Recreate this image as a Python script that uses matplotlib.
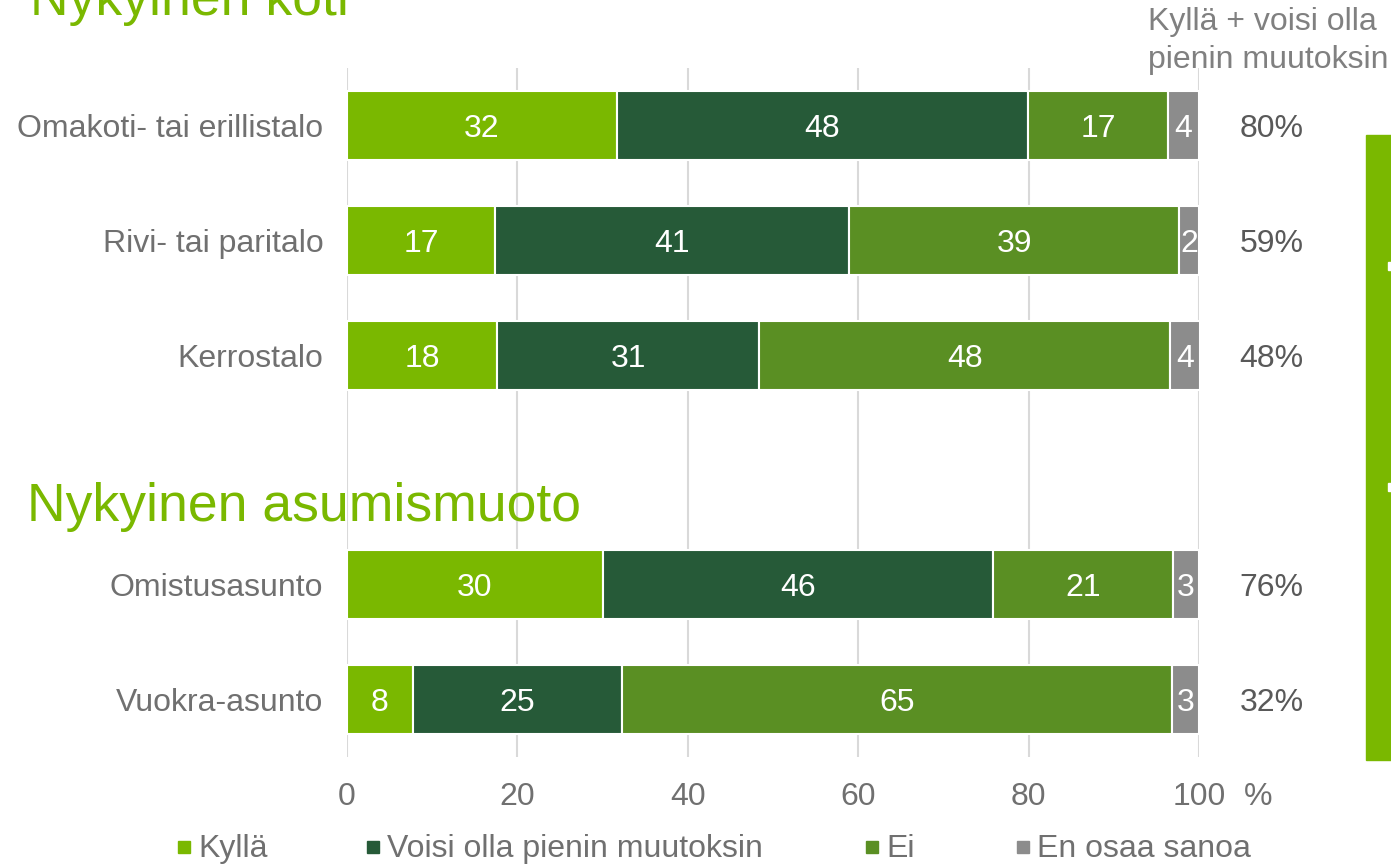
import matplotlib
matplotlib.use("Agg")
import matplotlib.pyplot as plt
from matplotlib.patches import Rectangle
import numpy as np

plt.rcParams['font.family'] = ['Liberation Sans', 'DejaVu Sans']

categories = ["Omakoti- tai erillistalo", "Rivi- tai paritalo", "Kerrostalo", "",
              "Omistusasunto", "Vuokra-asunto"]
series_names = ["Kyllä", "Voisi olla pienin muutoksin", "Ei", "En osaa sanoa"]
kylla = [31.7, 17.4, 17.6, None, 30.0, 7.7]
voisi = [48.2, 41.5, 30.8, None, 45.8, 24.6]
ei = [16.5, 38.8, 48.2, None, 21.1, 64.5]
eos = [3.6, 2.3, 3.5, None, 3.1, 3.2]
labels_kylla = ["32", "17", "18", "", "30", "8"]
labels_voisi = ["48", "41", "31", "", "46", "25"]
labels_ei = ["17", "39", "48", "", "21", "65"]
labels_eos = ["4", "2", "4", "", "3", "3"]
totals = ["80%", "59%", "48%", "", "76%", "32%"]
xticks = [0, 20, 40, 60, 80, 100]
colors = ["#7ab800", "#265a38", "#5a8f23", "#8c8c8c"]

FS = 23
W, H = 1391, 867
fig = plt.figure(figsize=(W / 100, H / 100), dpi=100)
ax = fig.add_axes([347 / W, 1 - 757 / H, (1199 - 347) / W, (757 - 68) / H])

y = np.arange(len(categories))
series = [kylla, voisi, ei, eos]
labs = [labels_kylla, labels_voisi, labels_ei, labels_eos]
idx = [i for i in range(len(categories)) if kylla[i] is not None]
left = np.zeros(len(categories))
for s, lab, c in zip(series, labs, colors):
    vals = np.array([v if v is not None else 0 for v in s])
    ax.barh(y[idx], vals[idx], left=left[idx], height=0.6, color=c,
            edgecolor="white", linewidth=1.5, zorder=3)
    for i in idx:
        ax.text(left[i] + vals[i] / 2, y[i], lab[i], ha="center", va="center_baseline",
                color="white", fontsize=FS, zorder=4)
    left += vals

ax.set_xlim(0, 100)
ax.set_ylim(len(categories) - 0.5, -0.5)
ax.set_yticks(y)
ax.set_yticklabels(categories, fontsize=FS, color="#707070")
ax.set_xticks(xticks)
ax.set_xticklabels([str(t) for t in xticks], fontsize=FS, color="#707070")
ax.tick_params(axis="both", length=0)
ax.tick_params(axis="y", pad=17)
ax.tick_params(axis="x", pad=18)
for sp in ax.spines.values():
    sp.set_visible(False)
ax.grid(axis="x", color="#d9d9d9", linewidth=1.5, zorder=0)
ax.set_axisbelow(True)

# percent unit next to 100
fig.text(1244 / W, 1 - 797 / H, "%", fontsize=FS, color="#707070", ha="left", va="center")

# right-hand totals
for i, t in enumerate(totals):
    if t:
        ax.text(1.085, y[i], t, transform=ax.get_yaxis_transform(), ha="center",
                va="center_baseline", fontsize=FS, color="#595959")
fig.text(1148 / W, 1 - 22 / H, "Kyllä + voisi olla", fontsize=FS, color="#808080",
         ha="left", va="center")
fig.text(1148 / W, 1 - 60 / H, "pienin muutoksin", fontsize=FS, color="#808080",
         ha="left", va="center")

# section titles
fig.text(30 / W, 1 - 15 / H, "Nykyinen koti", fontsize=38.5, color="#7ab800",
         ha="left", va="baseline")
fig.text(27 / W, 1 - 521 / H, "Nykyinen asumismuoto", fontsize=38.5, color="#7ab800",
         ha="left", va="baseline", zorder=5)

# right decorative green bar
fig.patches.append(Rectangle((1366 / W, 1 - 760 / H), 30 / W, (760 - 135) / H,
                             transform=fig.transFigure, color="#7ab800"))
fig.patches.append(Rectangle((1388 / W, 1 - 270 / H), 4 / W, 8 / H,
                             transform=fig.transFigure, color="white"))
fig.patches.append(Rectangle((1388 / W, 1 - 491 / H), 4 / W, 8 / H,
                             transform=fig.transFigure, color="white"))

# legend
leg_x = [178, 367, 866, 1017]
for name, c, lx in zip(series_names, colors, leg_x):
    fig.patches.append(Rectangle((lx / W, 1 - 853 / H), 12 / W, 12 / H,
                                 transform=fig.transFigure, color=c))
    fig.text((lx + 20) / W, 1 - 849 / H, name, fontsize=FS, color="#707070",
             ha="left", va="center")

fig.savefig("out.png", dpi=100)
